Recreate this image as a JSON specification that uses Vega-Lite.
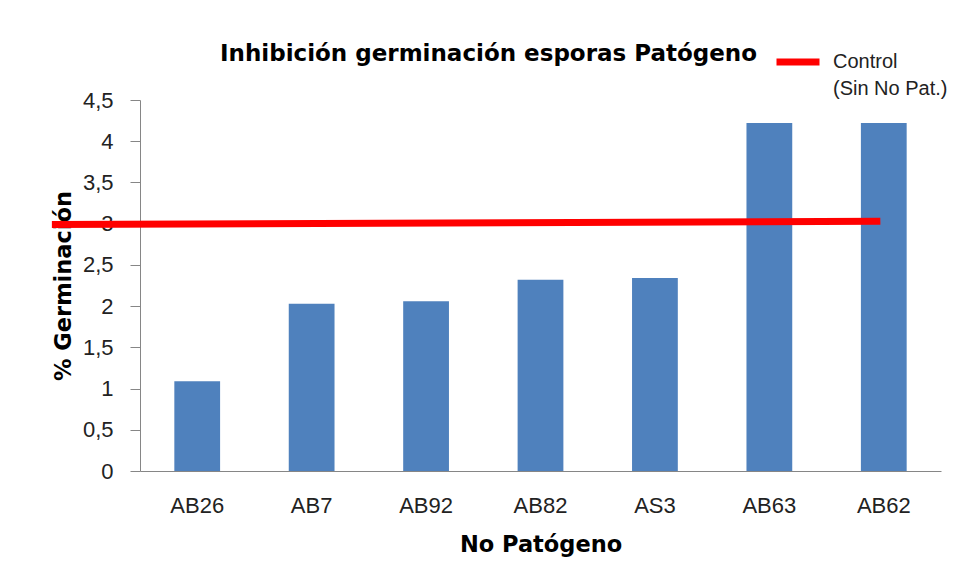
{
  "$schema": "https://vega.github.io/schema/vega-lite/v6.json",
  "autosize": {"type": "none"},
  "width": 801,
  "height": 371,
  "padding": {"left": 140, "top": 100, "right": 17, "bottom": 114},
  "background": "white",
  "title": {
    "text": "Inhibición germinación esporas Patógeno",
    "anchor": "start",
    "frame": "group",
    "dx": 80,
    "offset": -29,
    "font": "DejaVu Sans",
    "fontSize": 23,
    "fontWeight": "bold",
    "color": "#000000"
  },
  "config": {
    "view": {"stroke": null},
    "style": {"guide-label": {"lineHeight": 27}}
  },
  "datasets": {
    "bars": [
      {"cepa": "AB26", "germ": 1.09},
      {"cepa": "AB7", "germ": 2.03},
      {"cepa": "AB92", "germ": 2.06},
      {"cepa": "AB82", "germ": 2.32},
      {"cepa": "AS3", "germ": 2.34},
      {"cepa": "AB63", "germ": 4.22},
      {"cepa": "AB62", "germ": 4.22}
    ],
    "control": [
      {"pos": -1.27, "germ": 2.99, "serie": "Control"},
      {"pos": 5.97, "germ": 3.03, "serie": "Control"}
    ]
  },
  "layer": [
    {
      "data": {"name": "bars"},
      "mark": {"type": "bar", "color": "#4F81BD"},
      "encoding": {
        "x": {
          "field": "cepa",
          "type": "nominal",
          "sort": null,
          "scale": {"paddingInner": 0.6, "paddingOuter": 0.3},
          "axis": {
            "title": "No Patógeno",
            "labelAngle": 0,
            "ticks": false,
            "domainColor": "#868686",
            "labelFont": "Liberation Sans",
            "labelFontSize": 22,
            "labelColor": "#222222",
            "labelPadding": 24,
            "titleFont": "DejaVu Sans",
            "titleFontSize": 22.5,
            "titleFontWeight": "bold",
            "titleColor": "#000000",
            "titlePadding": 17
          }
        },
        "y": {
          "field": "germ",
          "type": "quantitative",
          "scale": {"domain": [0, 4.5], "nice": false},
          "axis": {
            "title": "% Germinación",
            "values": [0, 0.5, 1, 1.5, 2, 2.5, 3, 3.5, 4, 4.5],
            "format": ",.1~f",
            "labelExpr": "replace(datum.label, '.', ',')",
            "grid": false,
            "tickSize": 10,
            "tickColor": "#868686",
            "domainColor": "#868686",
            "labelFont": "Liberation Sans",
            "labelFontSize": 22,
            "labelColor": "#222222",
            "labelPadding": 17,
            "titleFont": "DejaVu Sans",
            "titleFontSize": 22.5,
            "titleFontWeight": "bold",
            "titleColor": "#000000",
            "titlePadding": 7
          }
        }
      }
    },
    {
      "data": {"name": "control"},
      "mark": {"type": "line", "strokeWidth": 7, "strokeCap": "butt", "clip": false},
      "encoding": {
        "x": {
          "field": "pos",
          "type": "quantitative",
          "scale": {"domain": [-0.5, 6.5], "nice": false, "zero": false},
          "axis": null
        },
        "y": {"field": "germ", "type": "quantitative"},
        "color": {
          "field": "serie",
          "type": "nominal",
          "scale": {"range": ["#FF0000"]},
          "legend": {
            "title": null,
            "orient": "none",
            "legendX": 633,
            "legendY": -63,
            "padding": 0,
            "symbolType": "stroke",
            "symbolSize": 1849,
            "symbolStrokeWidth": 7,
            "labelExpr": "['Control', '(Sin No Pat.)']",
            "labelFont": "Liberation Sans",
            "labelFontSize": 20,
            "labelColor": "#222222",
            "labelOffset": 10,
            "labelBaseline": "middle"
          }
        }
      }
    }
  ],
  "resolve": {"scale": {"x": "independent"}}
}
